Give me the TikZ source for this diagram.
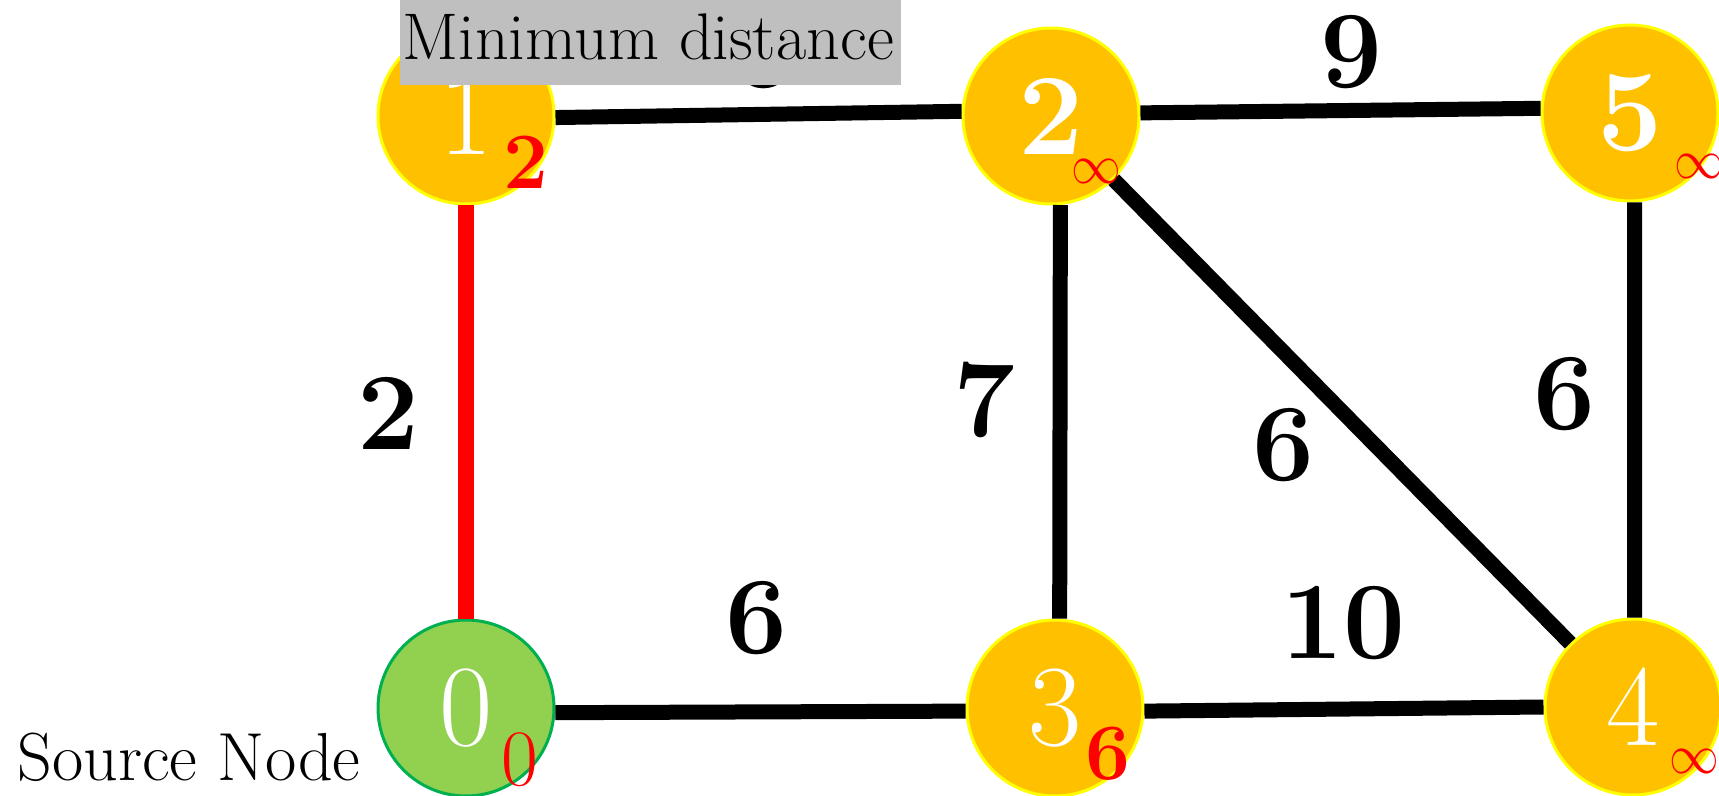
\documentclass[tikz,border=0pt]{standalone}
\usepackage{fontspec}
\usepackage{graphicx}
\definecolor{nodeor}{HTML}{FFC000}
\definecolor{nodebd}{HTML}{FFFF00}
\definecolor{srcfill}{HTML}{92D050}
\definecolor{srcbd}{HTML}{00B050}
\definecolor{boxgray}{HTML}{BFBFBF}
\definecolor{redd}{HTML}{FF0000}
\tikzset{
  vtx/.style={circle, minimum size=88pt, inner sep=0pt, fill=nodeor, draw=nodebd, line width=1.5pt, text=white, font=\fontsize{58}{58}\selectfont},
  srcvtx/.style={vtx, fill=srcfill, draw=srcbd},
  edgeline/.style={line width=7.5pt, draw=black},
  redline/.style={line width=8pt, draw=redd},
  wlab/.style={inner sep=0pt, font=\bfseries\fontsize{55}{55}\selectfont},
  dlab/.style={inner sep=0pt, text=redd, font=\fontsize{40}{40}\selectfont},
  ilab/.style={inner sep=0pt, text=redd, font=\fontsize{36}{36}\selectfont},
  gbox/.style={fill=boxgray, anchor=north west, minimum width=250.5pt, minimum height=42.5pt},
  gtext/.style={inner sep=0pt, anchor=base west, font=\fontsize{33}{33}\selectfont},
  plain/.style={inner sep=0pt, font=\fontsize{34}{34}\selectfont}
}
\begin{document}
\begin{tikzpicture}[x=0.5pt,y=-0.5pt]
\useasboundingbox (0,0) rectangle (1719,796);
\clip (0,0) rectangle (1719,796);
% vertices
\node[srcvtx] (n0) at (466,708) {0};
\node[vtx] (n1) at (466,116) {1};
\node[vtx, font=\bfseries\fontsize{58}{58}\selectfont] (n2) at (1051,116) {2};
\node[vtx] (n3) at (1055,708) {3};
\node[vtx] (n4) at (1633,707) {4};
\node[vtx, font=\bfseries\fontsize{58}{58}\selectfont] (n5) at (1630,113) {5};
% edges
\draw[redline] (n0) -- (n1);
\draw[edgeline] (n1.-1) -- (n2.177);
\draw[edgeline] (n2.2) -- (n5.177);
\draw[edgeline] (n2.-84) -- (n3.87);
\draw[edgeline] (n2) -- (n4);
\draw[edgeline] (n5.-87) -- (n4.89);
\draw[edgeline] (n0.-3) -- (n3.182);
\draw[edgeline] (n3.-2) -- (n4.180);
% edge weights
\node[wlab] (w01) at (388,413) {2};
\node[wlab] (w12) at (763,52) {6};
\node[wlab] (w25) at (1351,52) {9};
\node[wlab] (w23) at (984,400) {7};
\node[wlab] (w24) at (1283,445) {6};
\node[wlab] (w54) at (1564,394) {6};
\node[wlab] (w03) at (756,618) {6};
\node[wlab] (w34) at (1343,623) {10};
% distances
\node[dlab, font=\bfseries\fontsize{40}{40}\selectfont] (d1) at (526,162) {2};
\node[ilab] (d2) at (1096,172) {\scalebox{1}[1.12]{$\infty$}};
\node[ilab] (d5) at (1699,167) {\scalebox{1}[1.12]{$\infty$}};
\node[dlab] (d0) at (520,760) {0};
\node[dlab, font=\bfseries\fontsize{40}{40}\selectfont] (d3) at (1108,754) {6};
\node[ilab] (d4) at (1694,761) {\scalebox{1}[1.12]{$\infty$}};
% texts
\node[plain, anchor=base west] (src) at (17,780) {Source Node};
\node[gbox] (mind) at (400,0) {};
\node[gtext] (mindt) at (402,60) {Minimum distance};
\end{tikzpicture}
\end{document}
